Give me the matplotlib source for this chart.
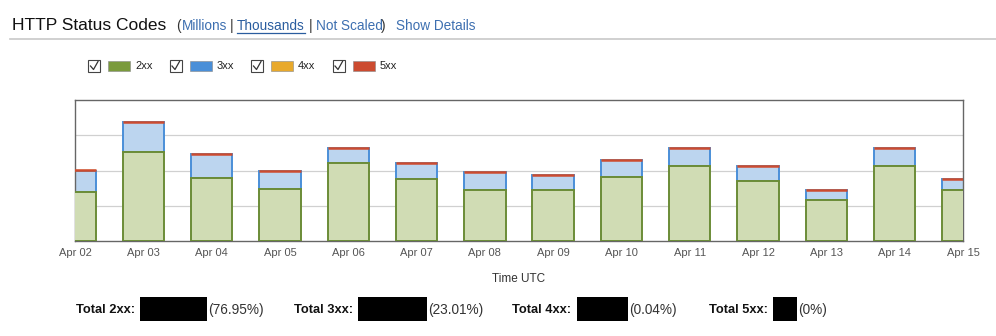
import matplotlib
matplotlib.use("Agg")
import matplotlib.pyplot as plt
from matplotlib.patches import Rectangle
from matplotlib.lines import Line2D
import numpy as np

plt.rcParams['font.family'] = ['Liberation Sans', 'DejaVu Sans']

days = ["Apr 02", "Apr 03", "Apr 04", "Apr 05", "Apr 06", "Apr 07", "Apr 08",
        "Apr 09", "Apr 10", "Apr 11", "Apr 12", "Apr 13", "Apr 14", "Apr 15"]
s2xx = [1.38, 2.52, 1.78, 1.48, 2.20, 1.77, 1.45, 1.45, 1.82, 2.14, 1.70, 1.15, 2.13, 1.44]
s3xx = [0.62, 0.86, 0.68, 0.51, 0.45, 0.45, 0.50, 0.43, 0.49, 0.49, 0.44, 0.29, 0.52, 0.33]
s4xx = [0.001, 0.001, 0.001, 0.001, 0.001, 0.001, 0.001, 0.001, 0.001, 0.001, 0.001, 0.001, 0.001, 0.001]
s5xx = [0, 0, 0, 0, 0, 0, 0, 0, 0, 0, 0, 0, 0, 0]
series_names = ["2xx", "3xx", "4xx", "5xx"]
percents = ["(76.95%)", "(23.01%)", "(0.04%)", "(0%)"]

W, H = 996, 336
fig = plt.figure(figsize=(W / 100, H / 100), dpi=100)

def fx(px):
    return px / W

def fy(py):
    return 1 - py / H

# Header
fig.text(fx(12), fy(25), "HTTP Status Codes", fontsize=12.5, color="#111111", va="center", ha="left")
link = "#3d6fb0"
fig.text(fx(176), fy(26), "(", fontsize=9.8, color="#333333", va="center")
fig.text(fx(182), fy(26), "Millions", fontsize=9.8, color=link, va="center")
fig.text(fx(230), fy(26), "|", fontsize=9.8, color="#333333", va="center")
fig.text(fx(237), fy(26), "Thousands", fontsize=9.8, color="#2a5d9f", va="center")
fig.add_artist(Line2D([fx(237), fx(305)], [fy(33), fy(33)], color="#2a5d9f", lw=0.9))
fig.text(fx(309), fy(26), "|", fontsize=9.8, color="#333333", va="center")
fig.text(fx(316), fy(26), "Not Scaled", fontsize=9.8, color=link, va="center")
fig.text(fx(381), fy(26), ")", fontsize=9.8, color="#333333", va="center")
fig.text(fx(396), fy(26), "Show Details", fontsize=9.8, color=link, va="center")
fig.add_artist(Line2D([fx(10), fx(996)], [fy(38.5), fy(38.5)], color="#c8c8c8", lw=1.2))

# Legend
leg_colors = ["#7a9a3c", "#4a8fd8", "#e8a92c", "#cc4b30"]
for i, (name, c) in enumerate(zip(series_names, leg_colors)):
    x0 = 88 + i * 81.5
    fig.add_artist(Rectangle((fx(x0), fy(72)), fx(12), 12 / H, facecolor="white",
                             edgecolor="#444444", lw=0.8))
    fig.add_artist(Line2D([fx(x0 + 2.5), fx(x0 + 5.5), fx(x0 + 10)],
                          [fy(66), fy(69.5), fy(61.5)], color="#333333", lw=0.9))
    fig.add_artist(Rectangle((fx(x0 + 20), fy(71)), fx(22), 10 / H, facecolor=c,
                             edgecolor="#888888", lw=0.4))
    fig.text(fx(x0 + 47), fy(66), name, fontsize=8, color="#222222", va="center")

# Axes
ax = fig.add_axes([fx(75), fy(241), fx(888), 141 / H])
x = np.arange(len(days))
w = 0.605
b2 = np.array(s2xx)
b3 = np.array(s3xx)
b4 = np.array(s4xx)
b5 = np.array(s5xx)
ax.bar(x, b2, width=w, color="#d0dcb4", edgecolor="#6b8c37", linewidth=1.4, zorder=3)
ax.bar(x, b3, width=w, bottom=b2, color="#bcd5ef", edgecolor="#4a8fd8", linewidth=1.4, zorder=2)
ax.bar(x, b4, width=w, bottom=b2 + b3, color="#e8a92c", edgecolor="#e8a92c", linewidth=0.3, zorder=3)
ax.bar(x, b5, width=w, bottom=b2 + b3 + b4, color="#cc4b30", edgecolor="#cc4b30", linewidth=1.8, zorder=4)

ax.set_xlim(0, len(days) - 1)
ax.set_ylim(0, 4)
ax.set_yticks([1, 2, 3])
ax.set_yticklabels([])
ax.tick_params(axis="y", length=0)
ax.grid(axis="y", color="#d0d0d0", lw=0.9, zorder=0)
ax.set_xticks(x)
ax.set_xticklabels(days, fontsize=8, color="#555555")
ax.tick_params(axis="x", length=0, pad=5)
for s in ax.spines.values():
    s.set_color("#666666")
    s.set_linewidth(1.0)
ax.set_xlabel("Time UTC", fontsize=8.5, color="#333333", labelpad=11)

# Footer totals
labels_x = [76, 294, 512, 709]
box_x = [(140, 207), (358, 427), (577, 628), (773, 797)]
for i, name in enumerate(series_names):
    fig.text(fx(labels_x[i]), fy(310), f"Total {name}:", fontsize=9.3, fontweight="bold",
             color="#111111", va="center")
    bx0, bx1 = box_x[i]
    fig.add_artist(Rectangle((fx(bx0), fy(321)), fx(bx1 - bx0), 24 / H, facecolor="black",
                             edgecolor="none"))
    fig.text(fx(bx1 + 1), fy(310), percents[i], fontsize=9.8, color="#333333", va="center")

fig.savefig("out.png", dpi=100)
